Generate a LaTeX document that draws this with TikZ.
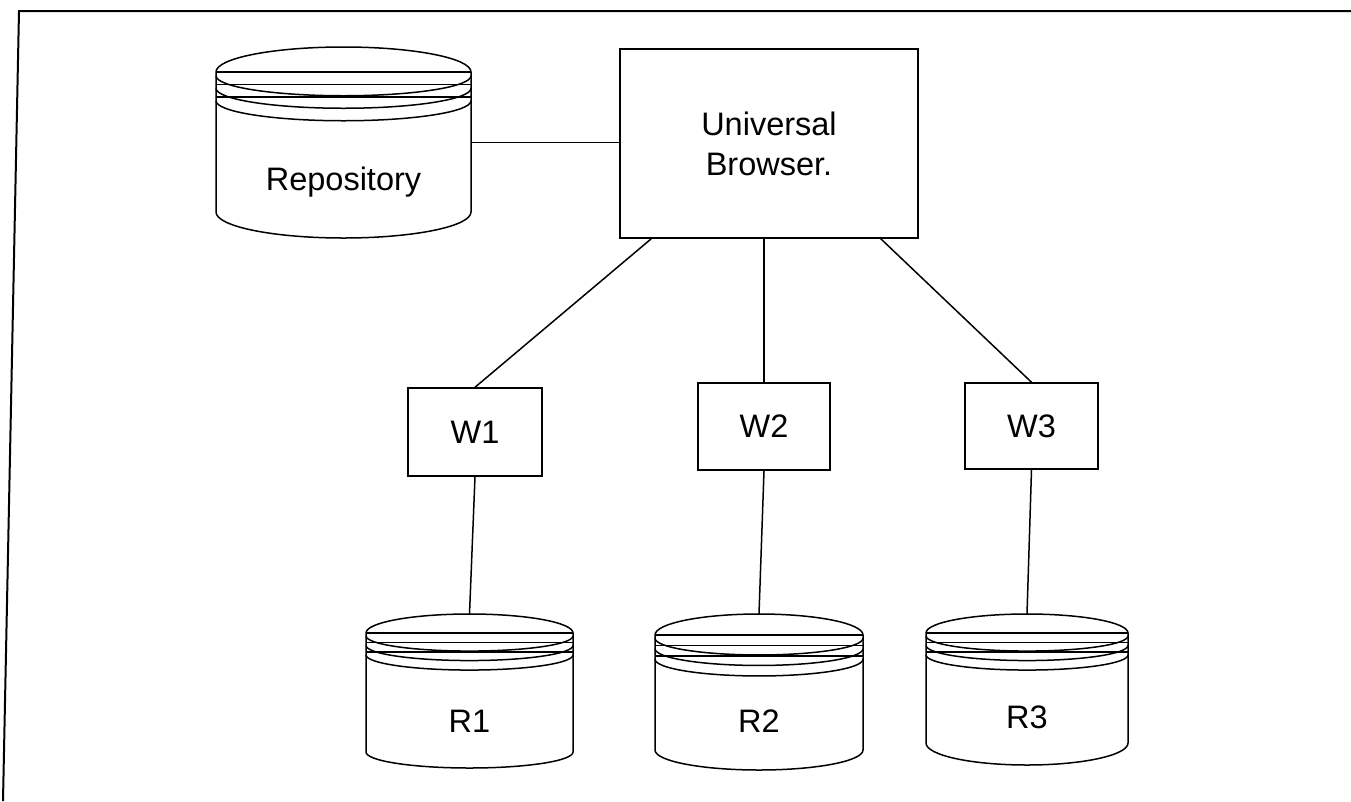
\documentclass[tikz,border=0pt]{standalone}
\usepackage{fontspec}
\setmainfont{Liberation Sans}
\usetikzlibrary{calc,fit}

% Stacked-disk store: name, left x, right x, top of cap, rim line, bottom of side, lowest point, label, label baseline
\newcommand\diskstack[9]{%
  \pgfmathsetmacro\dsCx{(#2+#3)/2}%
  \pgfmathsetmacro\dsRx{(#3-#2)/2}%
  \pgfmathsetmacro\dsRy{#5-#4}%
  \pgfmathsetmacro\dsRb{#7-#6}%
  \pgfmathsetmacro\dsGap{0.5*\dsRy}%
  \pgfmathsetmacro\dsRa{0.8*\dsRy}%
  \draw[wire] (#2,#5) arc[start angle=180,end angle=360,x radius=\dsRx,y radius=\dsRy]
        -- (#3,#6) arc[start angle=0,end angle=180,x radius=\dsRx,y radius=\dsRb] -- cycle;
  \foreach \k in {0,1,2}{%
    \draw[wire] (#2,{#5+\k*\dsGap}) -- (#3,{#5+\k*\dsGap});
    \draw[wire] (#2,{#5+0.3*\dsGap+\k*\dsGap})
        arc[start angle=180,end angle=0,x radius=\dsRx,y radius=\dsRa];
  }%
  \coordinate (#1-nw) at (#2,#4);
  \coordinate (#1-se) at (#3,#7);
  \node[fit=(#1-nw)(#1-se), inner sep=0pt] (#1) {};
  \node[anchor=base] (#1-label) at (\dsCx,#9) {#8};
}

\tikzset{
  wire/.style={line width=1.5pt, line join=round},
  procbox/.style={draw, line width=1.5pt, inner sep=0pt, align=center},
}

\begin{document}
\begin{tikzpicture}[x=1pt, y=-1pt, font=\fontsize{32.5}{40}\selectfont]
  \useasboundingbox (0,0) rectangle (1351,801);

  % page frame
  \draw[line width=2pt] (3,801) -- (19,11) -- (1351,11);

  % stores
  \diskstack{repo}{216}{471}{47}{72}{212}{238}{Repository}{190}
  \diskstack{r1}{366}{573}{614}{633}{752}{768}{R1}{732}
  \diskstack{r2}{655}{863}{614}{635}{750}{770}{R2}{732}
  \diskstack{r3}{926}{1128}{614}{633}{743}{765}{R3}{728}

  % browser and wrappers
  \node[procbox, minimum width=298pt, minimum height=189pt] (ub) at (769,143.5) {Universal\\Browser.};
  \node[procbox, minimum width=134pt, minimum height=88pt] (w1) at (475,432) {W1};
  \node[procbox, minimum width=132pt, minimum height=87pt] (w2) at (764,426.5) {W2};
  \node[procbox, minimum width=133pt, minimum height=86pt] (w3) at (1031.5,426) {W3};

  % connectors
  \draw[wire] (repo.east) -- (repo.east -| ub.west);
  \draw[wire] ($(ub.south west)+(32,0)$) -- (w1.north);
  \draw[wire] (w2.north |- ub.south) -- (w2.north);
  \draw[wire] ($(ub.south east)+(-38,0)$) -- (w3.north);
  \draw[wire] (w1.south) -- (r1.north);
  \draw[wire] (w2.south) -- (r2.north);
  \draw[wire] (w3.south) -- (r3.north);
\end{tikzpicture}
\end{document}
